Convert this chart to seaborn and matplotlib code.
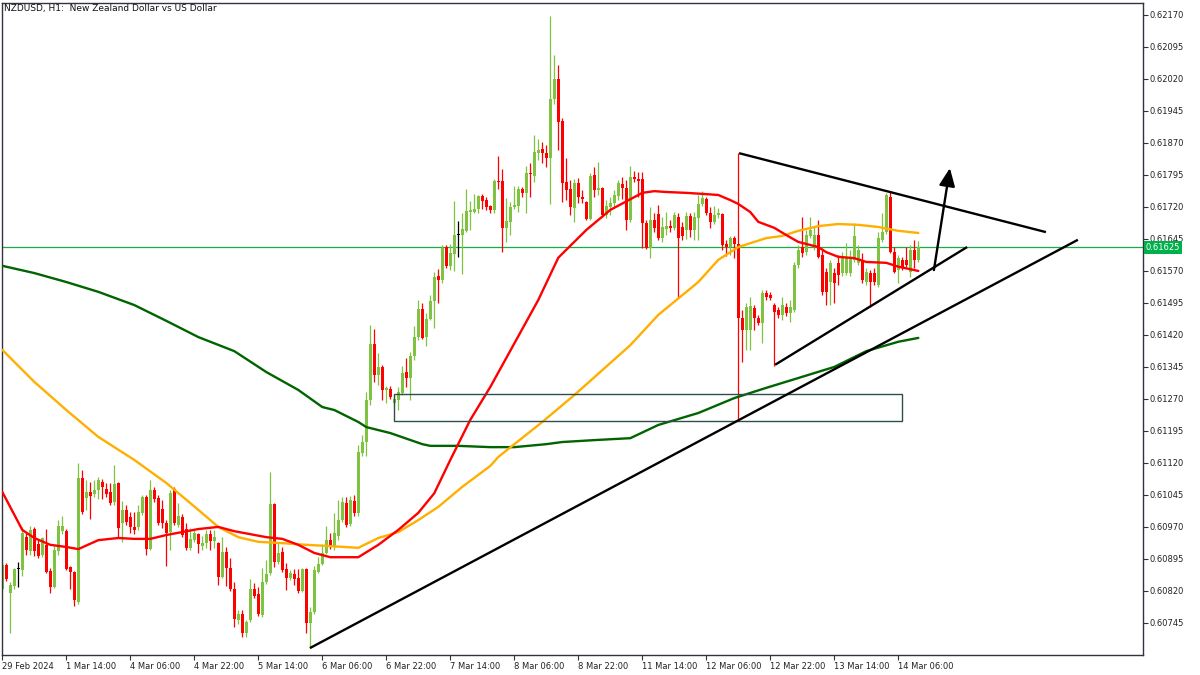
import numpy as np
import pandas as pd
import matplotlib
matplotlib.use("Agg")
import matplotlib.pyplot as plt
import matplotlib.transforms as mtransforms
from matplotlib.patches import Rectangle
import seaborn as sns

title_text = "NZDUSD, H1:  New Zealand Dollar vs US Dollar"

# OHLC in points (1 point = 0.00001)
open_pts = [60824,60881,60815,60831,60871,60869,60946,60913,60965,60930,
            60904,60928,60867,60829,60913,60960,60960,60876,60864,60794,
            61085,61038,61052,61047,61056,61075,61059,61052,61028,61073,
            60979,61010,60993,60970,60970,61003,61040,60918,61056,61038,
            61012,60979,60958,61059,60974,60993,60965,60921,60939,60953,
            60925,60932,60953,60937,60932,60853,60911,60874,60824,60752,
            60766,60721,60752,60824,60813,60764,60841,60862,61024,60888,
            60911,60871,60850,60860,60850,60820,60871,60745,60771,60864,
            60883,60909,60939,60923,60949,60986,61026,60977,61031,61003,
            61144,61169,61268,61399,61326,61345,61291,61293,61260,61268,
            61284,61333,61319,61371,61415,61481,61415,61457,61500,61558,
            61549,61626,61582,61610,61654,61654,61664,61708,61708,61715,
            61746,61736,61722,61713,61781,61781,61671,61685,61720,61722,
            61762,61753,61800,61792,61846,61856,61846,61835,61973,62020,
            61921,61778,61762,61718,61776,61743,61732,61692,61795,61760,
            61764,61701,61720,61729,61746,61774,61764,61689,61790,61785,
            61785,61682,61624,61689,61703,61647,61668,61675,61671,61696,
            61673,61666,61699,61666,61694,61727,61739,61706,61685,61701,
            61703,61633,61626,61647,61633,61460,61432,61432,61483,61460,
            61448,61518,61514,61490,61478,61467,61485,61471,61478,61584,
            61626,61614,61652,61626,61654,61607,61568,61544,61565,61589,
            61565,61565,61565,61596,61589,61596,61544,61565,61565,61537,
            61642,61661,61743,61614,61572,61596,61596,61568,61619,61596]
high_pts = [60888,60885,60841,60874,60888,60970,60956,60972,60970,60939,
            60946,60965,60874,60925,60986,60996,60965,60878,60867,61120,
            61103,61080,61075,61080,61087,61082,61073,61073,61115,61075,
            61031,61021,61005,61005,61021,61045,61045,61080,61064,61045,
            61033,60986,61056,61064,61026,61000,60979,60967,60963,60956,
            60949,60963,60963,60963,60935,60946,60923,60897,60841,60775,
            60775,60752,60848,60838,60829,60874,60892,61099,61026,60932,
            60923,60885,60869,60871,60871,60874,60874,60782,60878,60899,
            60930,60972,60956,61003,61033,61040,61040,61042,61045,61162,
            61185,61286,61443,61434,61378,61350,61300,61300,61275,61298,
            61347,61366,61380,61441,61502,61495,61471,61514,61568,61575,
            61631,61631,61633,61734,61687,61706,61762,61734,61750,61748,
            61750,61743,61725,61785,61839,61809,61741,61732,61769,61769,
            61767,61816,61823,61889,61879,61872,61865,62168,62076,62053,
            61928,61835,61783,61785,61788,61760,61734,61800,61814,61825,
            61767,61736,61743,61760,61783,61790,61783,61816,61804,61802,
            61802,61689,61720,61706,61725,61696,61708,61689,61708,61706,
            61685,61708,61706,61708,61748,61757,61743,61720,61722,61718,
            61706,61642,61652,61652,61846,61478,61495,61509,61490,61467,
            61525,61525,61521,61495,61485,61509,61495,61502,61591,61631,
            61696,61666,61696,61673,61689,61619,61577,61596,61577,61607,
            61614,61635,61619,61682,61631,61612,61577,61572,61577,61661,
            61706,61753,61755,61626,61607,61603,61626,61631,61642,61640]
low_pts = [60817,60843,60721,60824,60829,60855,60904,60904,60902,60897,
           60899,60862,60815,60827,60904,60953,60869,60824,60785,60789,
           61000,61010,60988,61040,61035,61035,61040,61021,61021,60946,
           60935,60974,60956,60953,60963,60998,60904,60916,61028,60974,
           60967,60878,60916,60974,60970,60946,60916,60916,60935,60909,
           60916,60921,60916,60921,60834,60850,60831,60820,60735,60742,
           60712,60712,60747,60803,60761,60759,60836,60857,60876,60883,
           60864,60822,60845,60834,60815,60817,60721,60686,60766,60862,
           60881,60906,60918,60916,60939,60981,60970,60972,60996,60996,
           61136,61136,61256,61310,61303,61268,61260,61270,61253,61244,
           61279,61298,61268,61361,61408,61410,61394,61455,61436,61495,
           61542,61577,61572,61570,61603,61563,61661,61666,61706,61706,
           61715,61713,61706,61706,61762,61614,61638,61654,61715,61708,
           61743,61706,61743,61778,61830,61823,61814,61727,61961,61853,
           61732,61736,61701,61685,61729,61729,61689,61689,61743,61748,
           61696,61694,61701,61722,61736,61739,61666,61685,61778,61743,
           61624,61621,61600,61661,61642,61638,61654,61661,61666,61507,
           61642,61645,61650,61642,61642,61722,61701,61671,61680,61694,
           61619,61605,61607,61600,61221,61357,61385,61385,61432,61443,
           61401,61502,61502,61347,61460,61455,61464,61450,61474,61577,
           61603,61607,61647,61619,61600,61514,61490,61490,61495,61537,
           61558,61560,61558,61591,61584,61542,61537,61485,61537,61532,
           61638,61657,61612,61565,61542,61572,61579,61556,61577,61591]
close_pts = [60881,60848,60834,60871,60871,60956,60916,60963,60913,60902,
             60944,60864,60829,60916,60972,60972,60871,60864,60799,61085,
             61005,61052,61042,61056,61080,61064,61047,61026,61071,60967,
             61010,60981,60970,60963,61005,61040,60918,61056,61035,60979,
             60979,60956,61049,60979,60996,60951,60921,60942,60956,60930,
             60932,60953,60937,60946,60853,60911,60874,60824,60754,60766,
             60721,60747,60824,60808,60766,60841,60860,61024,60888,60909,
             60869,60850,60862,60848,60820,60871,60745,60771,60869,60883,
             60909,60939,60923,60956,60986,61028,60974,61033,61003,61146,
             61169,61268,61399,61326,61345,61291,61296,61275,61270,61286,
             61331,61319,61371,61415,61481,61413,61457,61500,61556,61549,
             61624,61582,61612,61654,61654,61668,61710,61713,61715,61746,
             61734,61720,61713,61781,61778,61671,61687,61720,61725,61762,
             61753,61800,61797,61849,61853,61846,61835,61973,62020,61919,
             61776,61760,61720,61776,61743,61739,61692,61792,61760,61764,
             61701,61722,61729,61748,61776,61764,61689,61790,61785,61781,
             61682,61624,61689,61671,61647,61673,61675,61671,61701,61647,
             61652,61699,61666,61696,61727,61741,61706,61685,61701,61706,
             61631,61626,61647,61633,61460,61432,61485,61488,61460,61448,
             61518,61509,61507,61474,61467,61490,61471,61485,61584,61619,
             61612,61654,61666,61654,61603,61521,61521,61589,61542,61560,
             61605,61603,61603,61652,61619,61549,61568,61544,61544,61647,
             61661,61748,61614,61568,61600,61577,61584,61619,61596,61625]

x_tick_bars = [0, 16, 32, 48, 64, 80, 96, 112, 128, 144, 160, 176, 192, 208, 224]
x_tick_labels = ["29 Feb 2024", "1 Mar 14:00", "4 Mar 06:00", "4 Mar 22:00",
                 "5 Mar 14:00", "6 Mar 06:00", "6 Mar 22:00", "7 Mar 14:00",
                 "8 Mar 06:00", "8 Mar 22:00", "11 Mar 14:00", "12 Mar 06:00",
                 "12 Mar 22:00", "13 Mar 14:00", "14 Mar 06:00"]
y_tick_values = [0.62170, 0.62095, 0.62020, 0.61945, 0.61870, 0.61795, 0.61720,
                 0.61645, 0.61570, 0.61495, 0.61420, 0.61345, 0.61270, 0.61195,
                 0.61120, 0.61045, 0.60970, 0.60895, 0.60820, 0.60745]

ma_red_bars = [0,5,8,12,16,19,24,29,33,37,41,45,49,54,58,62,66,70,74,78,
               82,89,94,99,104,108,112,117,122,134,139,146,152,158,160,163,166,171,176,179,
               182,184,187,189,193,196,199,204,206,209,213,216,221,224,229]
ma_red_pts = [61052,60963,60944,60928,60923,60918,60939,60944,60942,60942,
              60951,60958,60965,60970,60960,60953,60946,60942,60928,60909,
              60899,60899,60928,60963,61003,61049,61127,61221,61298,61502,
              61601,61666,61713,61743,61753,61757,61755,61753,61750,61748,
              61736,61727,61708,61685,61671,61654,61638,61626,61614,61603,
              61600,61591,61589,61580,61570]
ma_orange_bars = [0,8,16,24,33,41,49,54,59,64,70,76,82,89,94,99,104,109,115,122,
                  124,135,143,157,164,174,179,184,191,195,199,204,209,214,219,224,229]
ma_orange_pts = [61385,61310,61244,61181,61127,61073,61010,60970,60946,60935,
                 60932,60928,60925,60921,60944,60958,60986,61017,61064,61113,
                 61134,61216,61279,61396,61467,61544,61596,61626,61647,61652,
                 61664,61675,61680,61678,61673,61664,61659]
ma_green_bars = [0,8,16,24,33,41,49,58,66,74,80,83,89,91,97,105,107,114,122,128,
                 136,140,149,157,164,174,183,191,199,208,216,224,229]
ma_green_pts = [61582,61565,61544,61521,61490,61453,61415,61382,61333,61291,
                61251,61244,61216,61204,61190,61164,61160,61160,61157,61157,
                61164,61169,61174,61178,61209,61237,61272,61296,61319,61345,
                61382,61404,61413]

last_price = 0.61625
support_bars = [76.9, 268.9]
support_pts = [60686, 61643]
upper_bars = [184.2, 260.9]
upper_pts = [61846, 61661]
lower_bars = [193.2, 241.2]
lower_pts = [61350, 61626]
arrow_bars = [232.9, 236.9]
arrow_pts = [61572, 61811]
zone_bars = [97.9, 224.9]
zone_pts = [61218, 61282]

P = 1e-5
o = np.array(open_pts) * P
h = np.array(high_pts) * P
l = np.array(low_pts) * P
c = np.array(close_pts) * P
idx = np.arange(len(o))

GREEN = '#80C342'
RED = '#FF0000'
colors = np.where(c > o, GREEN, np.where(c < o, RED, '#000000'))

sns.set_theme(style="white")
plt.rcParams['font.family'] = ['DejaVu Sans']

fig = plt.figure(figsize=(12, 6.75), dpi=100)
ax = fig.add_axes([2/1200, 20/675, 1141/1200, 652/675])

# candles
ax.vlines(idx, l, h, colors=colors, linewidth=0.9, zorder=2)
bottoms = np.minimum(o, c)
heights = np.maximum(np.abs(c - o), 2e-5)
ax.bar(idx, heights, bottom=bottoms, width=0.85, color=colors, linewidth=0,
       zorder=2, antialiased=False)

# moving averages
ma_df = pd.concat([
    pd.DataFrame({'bar': ma_green_bars, 'price': np.array(ma_green_pts) * P, 'ma': 'g'}),
    pd.DataFrame({'bar': ma_orange_bars, 'price': np.array(ma_orange_pts) * P, 'ma': 'o'}),
    pd.DataFrame({'bar': ma_red_bars, 'price': np.array(ma_red_pts) * P, 'ma': 'r'}),
])
sns.lineplot(data=ma_df, x='bar', y='price', hue='ma', ax=ax,
             palette={'g': '#006400', 'o': '#FFAF00', 'r': '#FF0000'},
             linewidth=1.7, legend=False, zorder=3, estimator=None, sort=False)

# current price line
ax.axhline(last_price, color='#1FAA48', linewidth=0.9, zorder=1)

# zone rectangle
ax.add_patch(Rectangle((zone_bars[0], zone_pts[0] * P), zone_bars[1] - zone_bars[0],
                       (zone_pts[1] - zone_pts[0]) * P, fill=False,
                       edgecolor='#2F4F4F', linewidth=1.0, zorder=4))

# trend lines
for bx, py in [(support_bars, support_pts), (upper_bars, upper_pts), (lower_bars, lower_pts)]:
    ax.plot(bx, np.array(py) * P, color='black', linewidth=1.7, zorder=5,
            solid_capstyle='butt')
ax.annotate('', xy=(arrow_bars[1], arrow_pts[1] * P), xytext=(arrow_bars[0], arrow_pts[0] * P),
            arrowprops=dict(arrowstyle='-|>,head_length=0.9,head_width=0.4', color='black',
                            lw=1.7, shrinkA=0, shrinkB=0), zorder=5)

ax.set_xlim(-0.075, 285.175)
ax.set_ylim(0.606698, 0.621980)

ax.yaxis.tick_right()
ax.set_yticks(y_tick_values)
ax.set_yticklabels([f"{v:.5f}" for v in y_tick_values])
ax.set_xticks(x_tick_bars)
ax.set_xticklabels(x_tick_labels)
for lab in ax.get_xticklabels():
    lab.set_horizontalalignment('left')
ax.tick_params(axis='both', direction='out', length=3.5, width=0.8, colors='#333333',
               labelsize=6, labelcolor='#222222')
ax.tick_params(axis='y', pad=1.5)
ax.tick_params(axis='x', pad=1.5, bottom=True)
ax.tick_params(axis='y', right=True, left=False)
ax.set_xlabel('')
ax.set_ylabel('')
for s in ax.spines.values():
    s.set_visible(True)
    s.set_color('#333340')
    s.set_linewidth(1.0)
ax.grid(False)

# current price tag
trans = mtransforms.blended_transform_factory(ax.transAxes, ax.transData)
ax.text(1.0025, last_price, f"{last_price:.5f}", transform=trans, ha='left', va='center',
        fontsize=6, color='white', zorder=10, clip_on=False,
        bbox=dict(boxstyle='square,pad=0.25', fc='#00B04A', ec='none'))

fig.text(4/1200, 1 - 4/675, title_text, ha='left', va='top', fontsize=6.5, color='#111111')

fig.savefig('out.png', dpi=100)
